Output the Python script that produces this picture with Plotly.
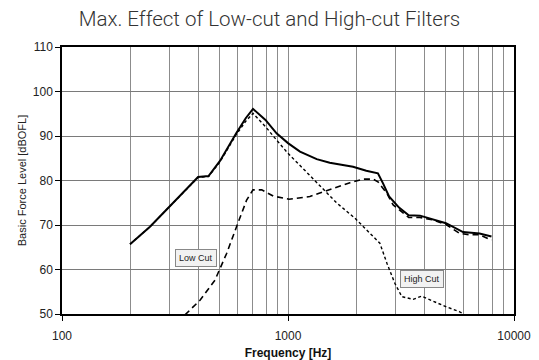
import math
import plotly.graph_objects as go

# Combined response (solid)
f_all = [200, 245, 300, 400, 445, 500, 590, 650, 700, 795, 890, 1000, 1130, 1340, 1530, 1700, 1940, 2220, 2500, 2630, 2800, 3100, 3420, 3840, 4400, 5000, 5950, 7040, 7950]
v_all = [65.7, 69.6, 74.2, 80.8, 81.0, 84.4, 90.6, 94.0, 96.1, 93.6, 90.6, 88.4, 86.5, 84.8, 84.0, 83.6, 83.1, 82.2, 81.6, 79.4, 76.4, 73.9, 72.2, 72.1, 71.3, 70.4, 68.4, 68.1, 67.4]

# Low-cut filter response (long dashes)
f_low = [350, 362, 408, 475, 535, 600, 656, 700, 765, 860, 1010, 1250, 1530, 1880, 2150, 2380, 2500, 2740, 2920, 3100, 3420, 3840, 4400, 5000, 5750, 6400, 7040, 7950]
v_low = [49.8, 50.5, 53.1, 57.6, 63.6, 70.4, 75.6, 77.9, 77.9, 76.5, 75.8, 76.4, 77.9, 79.5, 80.3, 80.3, 79.7, 77.1, 74.5, 73.4, 71.7, 71.7, 71.1, 70.1, 68.1, 67.8, 67.8, 66.6]

# High-cut filter response (short dashes)
f_high = [200, 245, 300, 400, 445, 500, 590, 650, 700, 795, 890, 1000, 1170, 1340, 1530, 1640, 1980, 2160, 2550, 2740, 2970, 3190, 3580, 3900, 4420, 5020, 5750, 6000]
v_high = [65.7, 69.6, 74.2, 80.7, 80.9, 84.2, 90.3, 93.3, 95.1, 92.1, 89.1, 86.1, 82.6, 79.6, 76.6, 75.0, 71.5, 69.6, 65.9, 61.4, 56.9, 53.9, 53.3, 54.0, 52.8, 51.6, 50.5, 50.0]

labels = ["Low Cut", "High Cut"]
label_x = [390, 3910]
label_y = [62.6, 57.9]

fig = go.Figure()
fig.add_trace(go.Scatter(x=f_all, y=v_all, mode="lines", line=dict(color="black", width=2), showlegend=False))
fig.add_trace(go.Scatter(x=f_low, y=v_low, mode="lines", line=dict(color="black", width=1.6, dash="6px,4px"), showlegend=False))
fig.add_trace(go.Scatter(x=f_high, y=v_high, mode="lines", line=dict(color="black", width=1.4, dash="3px,2.5px"), showlegend=False))

for t, xv, yv in zip(labels, label_x, label_y):
    fig.add_annotation(x=math.log10(xv), y=yv, text=t, showarrow=False,
                       font=dict(family="Liberation Sans, Arial", size=9, color="#222"),
                       bgcolor="#f2f2f2", bordercolor="#888", borderwidth=1, borderpad=3)

fig.update_layout(
    width=539, height=360,
    margin=dict(l=62, r=25, t=47, b=46, autoexpand=False),
    paper_bgcolor="white", plot_bgcolor="white",
    title=dict(text="Max. Effect of Low-cut and High-cut Filters", x=0.5, xanchor="center", y=0.948, yanchor="middle",
               font=dict(family="Roboto", size=20.5, color="#333", weight=300)),
    font=dict(family="Liberation Sans, Arial", size=12, color="#222"),
)
fig.update_xaxes(type="log", range=[2, 4], tickvals=[100, 1000, 10000], ticktext=["100", "1000", "10000"],
                 automargin=False,
                 showgrid=True, gridcolor="#8c8c8c", gridwidth=1,
                 minor=dict(dtick="D1", showgrid=True, gridcolor="#8c8c8c", gridwidth=1, ticks=""),
                 showline=True, linecolor="black", linewidth=1.5, mirror=True,
                 ticks="outside", ticklen=5, tickcolor="black", ticklabelstandoff=5,
                 title=dict(text="<b>Frequency [Hz]</b>", font=dict(size=12, color="#111"), standoff=10),
                 zeroline=False)
fig.update_yaxes(range=[50, 110], dtick=10, automargin=False,
                 showgrid=True, gridcolor="#7a7a7a", gridwidth=1,
                 showline=True, linecolor="black", linewidth=1.5, mirror=True,
                 ticks="outside", ticklen=5, tickcolor="black",
                 title=dict(text="Basic Force Level [dBOFL]", font=dict(size=11, color="#222"), standoff=4),
                 zeroline=False)

fig.write_html("out.html")
